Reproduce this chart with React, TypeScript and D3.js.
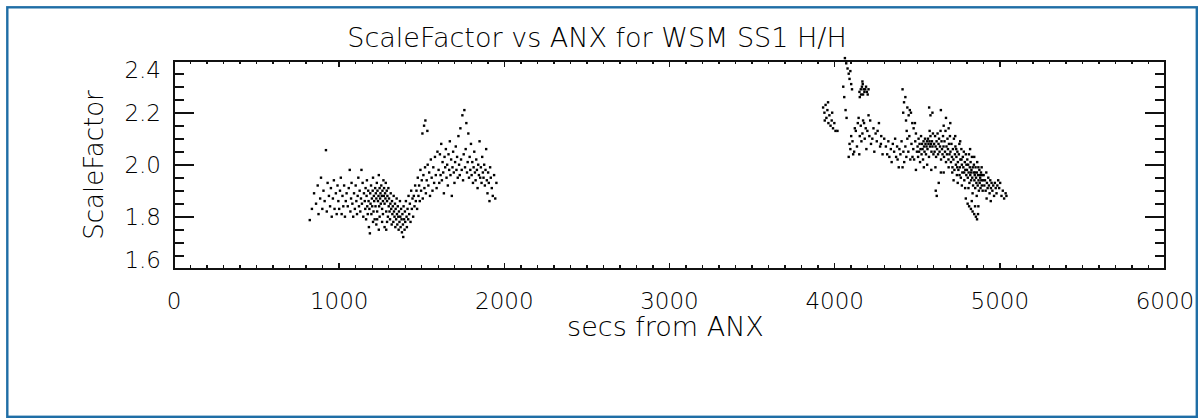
import React, { useEffect, useRef } from 'react';
import * as d3 from 'd3';

const W = 1204;
const H = 419;

// scale factor samples, first pass  [secs from ANX, scale factor]
const pass1: [number, number][] = [
  [822, 1.787], [835, 1.83], [848, 1.89], [860, 1.85], [870, 1.92], [875, 1.81], [885, 1.87], [890, 1.95],
  [898, 1.83], [905, 1.9], [912, 1.86], [920, 2.056], [925, 1.82], [930, 1.93], [938, 1.88], [945, 1.84],
  [950, 1.91], [955, 1.8], [962, 1.87], [968, 1.94], [972, 1.83], [980, 1.89], [985, 1.81], [990, 1.92],
  [995, 1.86], [1000, 1.83], [1005, 1.9], [1010, 1.95], [1015, 1.81], [1020, 1.88], [1025, 1.84], [1030, 1.92],
  [1035, 1.8], [1040, 1.86], [1045, 1.89],
  [1052, 1.84], [1058, 1.91], [1064, 1.98], [1068, 1.82], [1072, 1.87], [1075, 1.93], [1080, 1.85], [1085, 1.8],
  [1090, 1.89], [1095, 1.83], [1100, 1.92], [1104, 1.86], [1108, 1.81], [1112, 1.88], [1116, 1.95], [1120, 1.84],
  [1124, 1.9], [1128, 1.82], [1132, 1.87], [1135, 1.98], [1138, 1.85], [1142, 1.93], [1146, 1.8], [1150, 1.89],
  [1155, 1.86], [1158, 1.83], [1160, 1.91], [1163, 1.79], [1166, 1.88], [1168, 1.94], [1170, 1.84], [1173, 1.81],
  [1176, 1.9], [1178, 1.86], [1180, 1.76], [1183, 1.83], [1186, 1.736], [1188, 1.89], [1190, 1.85], [1193, 1.92],
  [1195, 1.81], [1198, 1.87], [1200, 1.84], [1203, 1.9], [1205, 1.95], [1208, 1.82], [1210, 1.88], [1212, 1.86],
  [1215, 1.79], [1218, 1.91], [1220, 1.84], [1222, 1.89], [1225, 1.87], [1228, 1.93], [1230, 1.82], [1232, 1.9],
  [1235, 1.86], [1238, 1.88], [1240, 1.96], [1242, 1.84], [1245, 1.91], [1248, 1.87], [1250, 1.89], [1252, 1.85],
  [1255, 1.92], [1258, 1.88], [1260, 1.83], [1262, 1.9], [1265, 1.86], [1268, 1.94], [1270, 1.88], [1272, 1.91],
  [1275, 1.85], [1278, 1.89], [1280, 1.87], [1282, 1.93], [1285, 1.82], [1288, 1.9], [1290, 1.86], [1292, 1.88],
  [1295, 1.8], [1298, 1.91], [1300, 1.84],
  [1205, 1.78], [1225, 1.77], [1245, 1.8], [1260, 1.78], [1275, 1.76], [1290, 1.78], [1240, 1.75], [1265, 1.81],
  [1230, 1.79], [1285, 1.75],
  [1302, 1.87], [1305, 1.82], [1308, 1.79], [1310, 1.85], [1312, 1.89], [1315, 1.83], [1318, 1.77], [1320, 1.86],
  [1322, 1.81], [1325, 1.84], [1328, 1.78], [1330, 1.88], [1332, 1.82], [1335, 1.8], [1338, 1.85], [1340, 1.76],
  [1342, 1.83], [1345, 1.79], [1348, 1.87], [1350, 1.81], [1352, 1.77], [1355, 1.84], [1358, 1.8], [1360, 1.75],
  [1362, 1.82], [1365, 1.78], [1368, 1.86], [1370, 1.8], [1372, 1.76], [1375, 1.83], [1378, 1.79], [1380, 1.74],
  [1383, 1.81], [1386, 1.77], [1388, 1.722], [1390, 1.84], [1393, 1.79], [1396, 1.75], [1398, 1.82], [1400, 1.78],
  [1404, 1.86], [1408, 1.8], [1410, 1.76], [1414, 1.83], [1418, 1.79], [1420, 1.88], [1424, 1.81], [1428, 1.85],
  [1432, 1.78], [1436, 1.9], [1440, 1.83], [1444, 1.87], [1448, 1.8],
  [1452, 1.88], [1456, 1.84], [1460, 1.92], [1464, 1.86], [1468, 1.9], [1472, 1.83], [1476, 1.95], [1480, 1.88],
  [1484, 1.92], [1488, 1.86], [1492, 1.98], [1496, 1.9], [1500, 1.94], [1504, 2.12], [1506, 1.87], [1510, 1.96],
  [1514, 2.15], [1516, 1.91], [1520, 1.99], [1522, 2.17], [1525, 1.89], [1530, 1.94], [1534, 2.13], [1536, 2.0],
  [1540, 1.92], [1545, 1.97], [1550, 1.88], [1555, 2.02], [1560, 1.95], [1565, 1.9], [1570, 1.99], [1575, 1.93],
  [1580, 2.03], [1585, 1.96], [1590, 1.91], [1595, 2.05],
  [1602, 1.98], [1606, 1.93], [1610, 2.04], [1614, 1.96], [1618, 2.08], [1622, 1.94], [1626, 2.01], [1630, 1.97],
  [1634, 1.89], [1638, 2.03], [1642, 1.99], [1646, 2.06], [1650, 1.95], [1654, 2.0], [1658, 1.92], [1662, 2.04],
  [1666, 1.98], [1670, 2.09], [1674, 1.96], [1678, 2.02], [1682, 1.88], [1686, 1.99], [1690, 2.05], [1694, 1.97],
  [1698, 1.93], [1702, 2.01], [1706, 2.07], [1710, 1.98], [1714, 2.03], [1718, 1.95], [1722, 2.11], [1726, 2.0],
  [1730, 1.96], [1734, 2.14], [1738, 2.02], [1742, 1.98], [1746, 2.19], [1750, 1.94], [1754, 2.04], [1758, 2.21],
  [1762, 1.99], [1766, 2.06], [1770, 2.16], [1774, 1.97], [1778, 2.01], [1782, 2.12], [1786, 1.95], [1790, 2.03],
  [1794, 1.98], [1798, 2.08],
  [1802, 1.96], [1806, 2.01], [1810, 1.93], [1814, 1.99], [1818, 2.05], [1822, 1.97], [1826, 1.94], [1830, 2.02],
  [1834, 1.98], [1838, 1.91], [1842, 2.0], [1846, 1.96], [1850, 2.09], [1854, 1.95], [1858, 1.99], [1862, 1.93],
  [1866, 2.03], [1870, 1.97], [1874, 1.95], [1878, 2.0], [1882, 1.92], [1886, 1.98], [1890, 2.06], [1894, 1.94],
  [1898, 1.89], [1902, 1.97], [1906, 1.93], [1910, 1.86], [1914, 1.99], [1918, 1.95], [1924, 1.91], [1930, 1.88],
  [1938, 1.96], [1945, 1.87], [1952, 1.93],
];

// scale factor samples, second pass
const pass2: [number, number][] = [
  [4062, 2.41], [4070, 2.39], [4078, 2.37], [4085, 2.35], [4090, 2.33], [4100, 2.31], [4095, 2.36], [4105, 2.29],
  [4150, 2.28], [4158, 2.29], [4165, 2.3], [4170, 2.31], [4175, 2.29], [4180, 2.28], [4185, 2.29], [4172, 2.27],
  [4160, 2.27], [4190, 2.3], [4195, 2.28], [4200, 2.27], [4168, 2.32], [4152, 2.26], [4205, 2.29],
  [4052, 2.3], [4058, 2.26], [4066, 2.21], [4072, 2.18],
  [3930, 2.22], [3938, 2.2], [3945, 2.23], [3950, 2.18], [3956, 2.21], [3962, 2.16], [3968, 2.19], [3975, 2.15],
  [3982, 2.17], [3990, 2.14], [3998, 2.16], [3940, 2.17], [3960, 2.24], [3985, 2.2], [4005, 2.13], [4017, 2.13],
  [4085, 2.03], [4090, 2.08], [4095, 2.06], [4100, 2.11], [4108, 2.09], [4112, 2.04], [4118, 2.05], [4122, 2.14],
  [4128, 2.13], [4135, 2.07], [4140, 2.16], [4145, 2.18], [4149, 2.04], [4152, 2.11], [4158, 2.15], [4162, 2.09],
  [4168, 2.12], [4172, 2.17], [4178, 2.16], [4182, 2.1], [4188, 2.14], [4192, 2.06], [4198, 2.13], [4205, 2.19],
  [4210, 2.11], [4215, 2.17], [4220, 2.08], [4228, 2.1], [4235, 2.14], [4240, 2.05], [4248, 2.12], [4255, 2.09],
  [4260, 2.13], [4268, 2.16], [4275, 2.07], [4282, 2.11], [4290, 2.04],
  [4411, 2.29], [4420, 2.24], [4428, 2.26], [4440, 2.22], [4448, 2.19], [4455, 2.21], [4462, 2.2], [4432, 2.17],
  [4470, 2.16], [4478, 2.14], [4486, 2.16], [4492, 2.12], [4415, 2.2], [4436, 2.13],
  [4572, 2.22], [4580, 2.19], [4592, 2.2], [4643, 2.21], [4674, 2.18], [4660, 2.15], [4690, 2.14], [4700, 2.16],
  [4280, 2.08], [4300, 2.1], [4310, 2.07], [4318, 2.04], [4325, 2.09], [4331, 2.03], [4340, 2.06], [4345, 2.01],
  [4352, 2.08], [4360, 2.05], [4366, 2.1], [4372, 2.03], [4378, 2.07], [4381, 2.02], [4388, 1.99], [4392, 2.06],
  [4398, 2.04], [4405, 2.09], [4411, 1.99], [4416, 2.05], [4421, 2.01], [4428, 2.07], [4434, 2.03], [4440, 2.1],
  [4446, 2.05], [4452, 2.11], [4458, 2.02], [4465, 2.08], [4471, 2.03], [4476, 2.06], [4481, 2.02], [4488, 2.09],
  [4492, 1.98], [4498, 2.05],
  [4502, 2.07], [4505, 2.03], [4508, 2.1], [4511, 2.05], [4514, 2.08], [4517, 2.01], [4520, 2.06], [4523, 2.11],
  [4526, 2.04], [4529, 2.08], [4532, 2.06], [4535, 2.02], [4538, 2.09], [4541, 2.07], [4544, 2.05], [4547, 2.1],
  [4550, 2.08], [4553, 2.04], [4556, 2.07], [4559, 2.09], [4562, 2.06], [4565, 2.1], [4568, 2.08], [4571, 2.03],
  [4574, 2.09], [4577, 2.07], [4580, 2.11], [4583, 2.08], [4586, 2.05], [4589, 2.09], [4592, 2.07], [4595, 2.12],
  [4598, 2.04], [4560, 2.0], [4540, 1.99], [4585, 1.98], [4575, 2.13],
  [4602, 2.08], [4605, 2.05], [4608, 2.11], [4611, 2.07], [4614, 2.03], [4617, 2.09], [4620, 2.06], [4623, 2.12],
  [4626, 2.04], [4629, 2.08], [4632, 2.1], [4635, 2.05], [4638, 2.07], [4641, 2.13], [4644, 2.02], [4647, 2.09],
  [4650, 2.06], [4653, 2.04], [4656, 2.11], [4659, 2.07], [4662, 2.03], [4665, 2.09], [4668, 2.05], [4671, 2.13],
  [4674, 2.01], [4677, 2.07], [4680, 2.04], [4683, 2.1], [4686, 2.06], [4689, 2.02], [4692, 2.08], [4695, 2.04],
  [4698, 2.11], [4630, 1.93], [4610, 1.99], [4660, 1.97], [4690, 1.99], [4612, 1.9], [4618, 1.88], [4643, 1.97],
  [4701, 2.05], [4704, 2.01], [4707, 2.08], [4710, 2.03], [4713, 1.99], [4716, 2.06], [4719, 2.02], [4722, 2.1],
  [4725, 1.98], [4728, 2.04], [4731, 2.07], [4734, 2.0], [4737, 2.03], [4740, 1.96], [4743, 2.05], [4746, 2.01],
  [4749, 1.98], [4752, 2.04], [4755, 2.08], [4758, 1.99], [4761, 2.02], [4764, 1.95], [4767, 2.06], [4770, 2.0],
  [4773, 1.97], [4776, 2.03], [4779, 1.99], [4782, 2.05], [4785, 1.94], [4788, 2.01], [4791, 1.98], [4794, 2.04],
  [4797, 1.96], [4720, 1.94], [4745, 1.93], [4770, 1.92], [4790, 1.91], [4730, 2.11], [4760, 2.09], [4712, 1.97],
  [4742, 1.99], [4768, 2.02], [4784, 1.97], [4756, 1.96], [4736, 2.06], [4798, 2.0],
  [4801, 1.98], [4803, 2.02], [4806, 1.95], [4808, 2.0], [4811, 1.97], [4813, 2.04], [4816, 1.93], [4818, 1.99],
  [4821, 1.96], [4823, 2.01], [4826, 1.94], [4828, 1.98], [4831, 2.03], [4833, 1.95], [4836, 1.99], [4838, 1.92],
  [4841, 1.97], [4843, 2.0], [4846, 1.94], [4848, 1.96], [4851, 1.91], [4853, 1.99], [4856, 1.95], [4858, 1.93],
  [4861, 1.97], [4863, 2.01], [4866, 1.92], [4868, 1.96], [4871, 1.94], [4873, 1.9], [4876, 1.98], [4878, 1.93],
  [4881, 1.95], [4883, 1.91], [4886, 1.97], [4888, 1.94], [4891, 1.92], [4893, 1.96], [4896, 1.9], [4898, 1.94],
  [4810, 1.91], [4835, 1.89], [4860, 1.88], [4820, 2.06], [4845, 2.03], [4870, 1.99], [4890, 1.99], [4825, 1.97],
  [4850, 1.97], [4880, 1.96],
  [4794, 1.87], [4805, 1.85], [4814, 1.84], [4825, 1.83], [4835, 1.82], [4845, 1.81], [4855, 1.8], [4862, 1.79],
  [4868, 1.81], [4850, 1.84], [4830, 1.86], [4870, 1.84],
  [4902, 1.96], [4906, 1.92], [4910, 1.94], [4914, 1.9], [4918, 1.97], [4922, 1.93], [4926, 1.91], [4930, 1.95],
  [4934, 1.92], [4938, 1.89], [4942, 1.94], [4946, 1.91], [4950, 1.93], [4955, 1.9], [4960, 1.92], [4965, 1.88],
  [4970, 1.93], [4975, 1.91], [4980, 1.89], [4985, 1.92], [4990, 1.94], [4996, 1.91], [5002, 1.93], [5010, 1.88],
  [5018, 1.9], [5026, 1.87], [5035, 1.89], [5040, 1.88], [4920, 1.87], [4945, 1.86],
];

const xTickValues = [0, 1000, 2000, 3000, 4000, 5000, 6000];
const yTickValues = [1.6, 1.8, 2.0, 2.2, 2.4];
const yTickLabels = ['1.6', '1.8', '2.0', '2.2', '2.4'];
const chartTitle = 'ScaleFactor vs ANX for WSM SS1 H/H';
const xTitle = 'secs from ANX';
const yTitle = 'ScaleFactor';

const App: React.FC = () => {
  const svgRef = useRef<SVGSVGElement>(null);

  useEffect(() => {
    const svg = d3.select(svgRef.current);
    svg.selectAll('*').remove();

    const plot = { left: 174, right: 1165, top: 60.7, bottom: 268.7 };
    const font = "'DejaVu Sans', Verdana, sans-serif";
    const ink = '#111';

    const x = d3.scaleLinear().domain([0, 6000]).range([plot.left, plot.right]);
    const y = d3.scaleLinear().domain([1.6, 2.4]).range([plot.bottom, plot.top]);

    svg.append('rect').attr('width', W).attr('height', H).attr('fill', '#fff');

    // outer frame
    svg.append('rect')
      .attr('x', 7.3).attr('y', 7.3)
      .attr('width', 1189.5).attr('height', 409.5)
      .attr('fill', 'none')
      .attr('stroke', '#1f6ea6')
      .attr('stroke-width', 2.4);

    const axes = svg.append('g').attr('stroke', ink).attr('shape-rendering', 'crispEdges');

    // x ticks, top and bottom, pointing inward
    const xMinor = x.ticks(60);
    xMinor.forEach(v => {
      const len = v % 1000 === 0 ? 6 : 3.5;
      axes.append('line').attr('x1', x(v)).attr('x2', x(v))
        .attr('y1', plot.bottom).attr('y2', plot.bottom - len).attr('stroke-width', 1.4);
      axes.append('line').attr('x1', x(v)).attr('x2', x(v))
        .attr('y1', plot.top).attr('y2', plot.top + len).attr('stroke-width', 1.4);
    });

    // y ticks, left and right
    const yMinor = y.ticks(16);
    yMinor.forEach(v => {
      const major = Math.abs(Math.round(v * 5) - v * 5) < 1e-6;
      const len = major ? 20 : 10;
      axes.append('line').attr('x1', plot.left).attr('x2', plot.left + len)
        .attr('y1', y(v)).attr('y2', y(v)).attr('stroke-width', 1.6);
      axes.append('line').attr('x1', plot.right).attr('x2', plot.right - len)
        .attr('y1', y(v)).attr('y2', y(v)).attr('stroke-width', 1.6);
    });

    // box
    axes.append('rect')
      .attr('x', plot.left).attr('y', plot.top)
      .attr('width', plot.right - plot.left).attr('height', plot.bottom - plot.top)
      .attr('fill', 'none').attr('stroke-width', 2);

    // points
    const dots = svg.append('g').attr('fill', '#000');
    [...pass1, ...pass2].forEach(([sx, sf]) => {
      dots.append('rect')
        .attr('x', x(sx) - 1.2).attr('y', y(sf) - 1.2)
        .attr('width', 2.4).attr('height', 2.4);
    });

    const labels = svg.append('g')
      .attr('font-family', font)
      .attr('fill', '#000')
      .attr('font-weight', 300);

    xTickValues.forEach(v => {
      labels.append('text')
        .attr('x', x(v)).attr('y', 308.5)
        .attr('text-anchor', 'middle')
        .attr('font-size', 23)
        .text(String(v));
    });

    yTickValues.forEach((v, i) => {
      const cy = Math.min(Math.max(y(v), plot.top + 9.5), plot.bottom - 8.5);
      labels.append('text')
        .attr('x', 161).attr('y', cy)
        .attr('dy', '0.36em')
        .attr('text-anchor', 'end')
        .attr('font-size', 23)
        .text(yTickLabels[i]);
    });

    labels.append('text')
      .attr('x', 597).attr('y', 46.5)
      .attr('text-anchor', 'middle')
      .attr('font-size', 27)
      .text(chartTitle);

    labels.append('text')
      .attr('x', (plot.left + plot.right) / 2 - 4).attr('y', 336)
      .attr('text-anchor', 'middle')
      .attr('font-size', 27)
      .text(xTitle);

    labels.append('text')
      .attr('transform', `translate(103,165) rotate(-90)`)
      .attr('text-anchor', 'middle')
      .attr('font-size', 26)
      .text(yTitle);
  }, []);

  return (
    <svg
      ref={svgRef}
      width={W}
      height={H}
      viewBox={`0 0 ${W} ${H}`}
      style={{ position: 'absolute', left: 0, top: 0, display: 'block' }}
    />
  );
};

export default App;
